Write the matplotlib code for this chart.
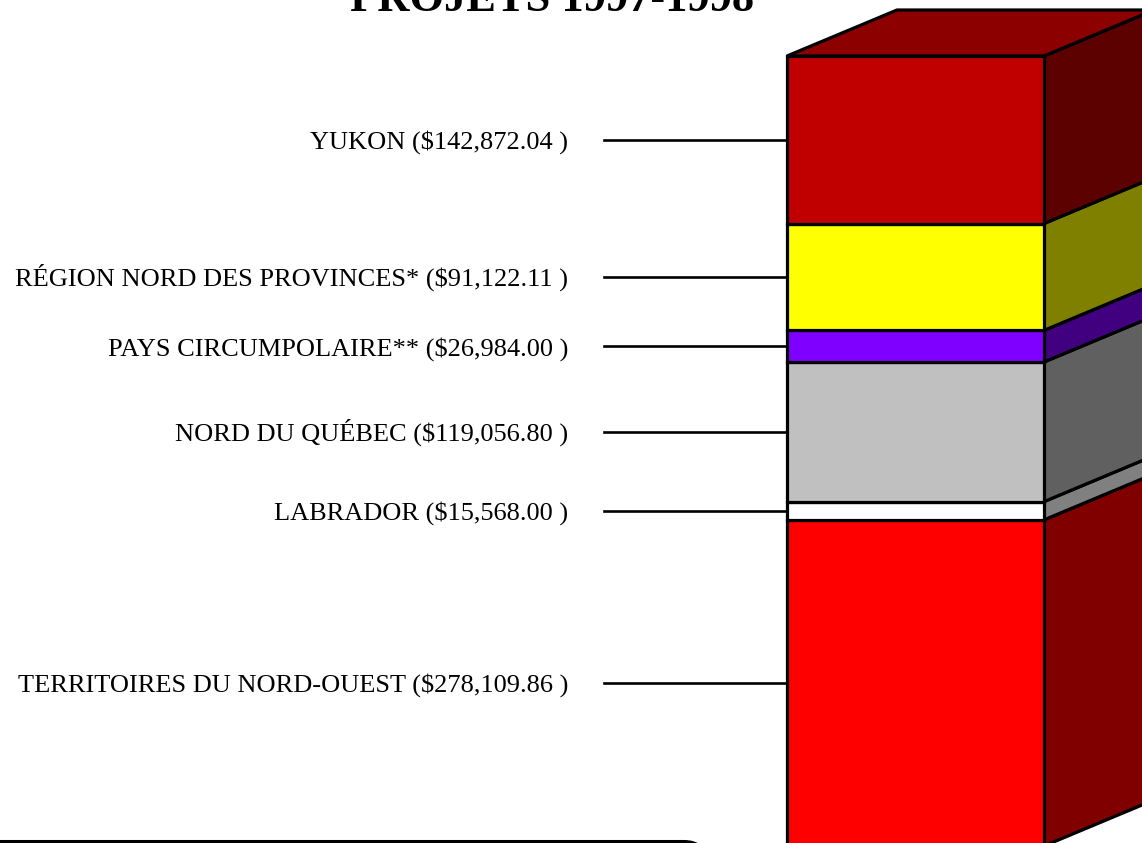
import matplotlib
matplotlib.use("Agg")
import matplotlib.pyplot as plt
from matplotlib.patches import Polygon, FancyBboxPatch

# Données (du bas vers le haut de la colonne)
regions = ["TERRITOIRES DU NORD-OUEST", "LABRADOR", "NORD DU QUÉBEC",
           "PAYS CIRCUMPOLAIRE**", "RÉGION NORD DES PROVINCES*", "YUKON"]
montants = [278109.86, 15568.00, 119056.80, 26984.00, 91122.11, 142872.04]
couleurs_face = ["#FF0000", "#FFFFFF", "#C0C0C0", "#8000FF", "#FFFF00", "#C00000"]
couleurs_cote = ["#800000", "#808080", "#606060", "#400080", "#808000", "#5C0000"]
couleur_dessus = "#8C0000"

plt.rcParams['font.family'] = ['Liberation Serif', 'DejaVu Serif']

W, H = 1142, 843
fig = plt.figure(figsize=(W / 100, H / 100), dpi=100)
ax = fig.add_axes([0, 0, 1, 1])
ax.set_axis_off()

# échelle : le total occupe 790 px, base de la colonne à 846 px (sous le bord)
total = sum(montants)
ppd = 790 / total
base_px = 846
ax.set_xlim(0, W)
ax.set_ylim((base_px - H) / ppd, base_px / ppd)

x0, x1 = 787, 1044       # face avant
dx = 110                 # profondeur (px)
dy = 46 / ppd            # profondeur (en $)

bas = 0
for nom, v, cf, cc in zip(regions, montants, couleurs_face, couleurs_cote):
    haut = bas + v
    ax.add_patch(Polygon([(x0, bas), (x1, bas), (x1, haut), (x0, haut)],
                         closed=True, facecolor=cf, edgecolor='black', lw=2.3, zorder=3))
    ax.add_patch(Polygon([(x1, bas), (x1 + dx, bas + dy), (x1 + dx, haut + dy), (x1, haut)],
                         closed=True, facecolor=cc, edgecolor='black', lw=2.3, zorder=2))
    milieu = bas + v / 2
    ax.plot([604, x0], [milieu, milieu], color='black', lw=1.9, zorder=1)
    ax.annotate(f"{nom} (${v:,.2f} )", xy=(568, milieu), xytext=(0, -6.5),
                textcoords='offset points', ha='right', va='baseline', fontsize=19)
    bas = haut

# dessus de la colonne
ax.add_patch(Polygon([(x0, bas), (x0 + dx, bas + dy), (x1 + dx, bas + dy), (x1, bas)],
                     closed=True, facecolor=couleur_dessus, edgecolor='black', lw=2.3, zorder=2))

# titre (coupé en haut comme dans l'original)
fig.text(552 / W, 1 - 11 / H, "PROJETS 1997-1998", ha='center', va='baseline',
         fontsize=32, fontweight='bold')

# cadre arrondi en bas à gauche (seul le bord supérieur est visible)
boite = FancyBboxPatch((-30, -120), 736, 121.5,
                       boxstyle="round,pad=0,rounding_size=22",
                       transform=None, facecolor='white',
                       edgecolor='black', lw=2.2, zorder=5)
fig.add_artist(boite)

fig.savefig("out.png", dpi=100)
